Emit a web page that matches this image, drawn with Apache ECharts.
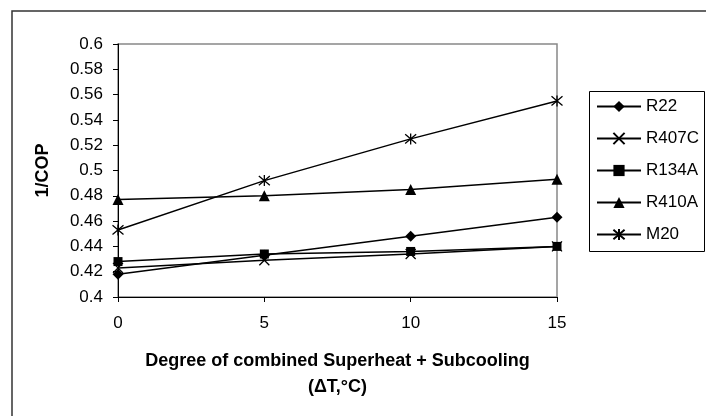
<!DOCTYPE html>
<html>
<head>
<meta charset="utf-8">
<script src="https://cdn.jsdelivr.net/npm/echarts@6/dist/echarts.min.js"></script>
<style>
  html, body { margin: 0; padding: 0; background: #fff; }
  #chart { width: 706px; height: 416px; }
</style>
</head>
<body>
<div id="chart"></div>
<script>
// x values: degree of combined superheat + subcooling
var xValues = [0, 5, 10, 15];
var seriesNames = ['R22', 'R407C', 'R134A', 'R410A', 'M20'];
var r22 = [0.418, 0.433, 0.448, 0.463];
var r407c = [0.423, 0.429, 0.434, 0.440];
var r134a = [0.428, 0.434, 0.436, 0.440];
var r410a = [0.477, 0.480, 0.485, 0.493];
var m20 = [0.453, 0.492, 0.525, 0.555];

var crossPath = 'path://M0,0L10,10M10,0L0,10';
var starPath = 'path://M0,0L10,10M10,0L0,10M5,-1L5,11';

function pairs(vals) {
    return xValues.map(function (x, i) { return [x, vals[i]]; });
}

function makeSeries(name, vals, symbol, size, stroke) {
    return {
        name: name,
        type: 'line',
        data: pairs(vals),
        symbol: symbol,
        symbolSize: size,
        showAllSymbol: true,
        lineStyle: { color: '#000', width: 1.5 },
        itemStyle: { color: '#000', borderColor: '#000', borderWidth: stroke ? 1.3 : 0 },
        emphasis: { disabled: true },
        z: 3
    };
}

var myChart = echarts.init(document.getElementById('chart'));

var font = 'Liberation Sans, Arial, sans-serif';

var option = {
    animation: false,
    backgroundColor: '#fff',
    textStyle: { fontFamily: font },
    graphic: [
        // outer chart frame
        {
            type: 'rect',
            shape: { x: 12, y: 11, width: 800, height: 500 },
            style: { fill: 'none', stroke: '#333', lineWidth: 1.5 },
            z: -1
        },
        // legend box
        {
            type: 'rect',
            shape: { x: 589.5, y: 91.5, width: 115, height: 160 },
            style: { fill: 'none', stroke: '#000', lineWidth: 1 },
            z: -1
        }
    ],
    grid: {
        left: 118, right: 149, top: 44, bottom: 119,
        show: true, borderColor: '#888', borderWidth: 1.5
    },
    legend: {
        orient: 'vertical',
        left: 596, top: 98,
        padding: 0,
        itemWidth: 44, itemHeight: 14, itemGap: 15,
        data: seriesNames,
        textStyle: { fontFamily: font, fontSize: 17, color: '#000', padding: [0, 0, 0, 0] }
    },
    xAxis: {
        type: 'value',
        min: 0, max: 15, interval: 5,
        splitLine: { show: false },
        axisLine: { lineStyle: { color: '#000', width: 1 } },
        axisTick: { inside: false, length: 5, lineStyle: { color: '#000' } },
        axisLabel: { fontFamily: font, fontSize: 17, color: '#000', margin: 18 },
        name: 'Degree of combined Superheat + Subcooling\n(\u0394T,\u00b0C)',
        nameLocation: 'middle',
        nameGap: 51,
        nameTextStyle: { fontFamily: font, fontSize: 18, fontWeight: 'bold', color: '#000', lineHeight: 26 }
    },
    yAxis: {
        type: 'value',
        min: 0.4, max: 0.6, interval: 0.02,
        splitLine: { show: false },
        axisLine: { show: true, lineStyle: { color: '#000', width: 1 } },
        axisTick: { show: true, inside: false, length: 5, lineStyle: { color: '#000' } },
        axisLabel: {
            fontFamily: font, fontSize: 17, color: '#000', margin: 15,
            formatter: function (v) { return String(Math.round(v * 100) / 100); }
        },
        name: '1/COP',
        nameLocation: 'middle',
        nameGap: 66,
        nameTextStyle: { fontFamily: font, fontSize: 18, fontWeight: 'bold', color: '#000' }
    },
    series: [
        makeSeries('R22', r22, 'diamond', 11, false),
        makeSeries('R407C', r407c, crossPath, 10, true),
        makeSeries('R134A', r134a, 'rect', 9, false),
        makeSeries('R410A', r410a, 'triangle', 11, false),
        makeSeries('M20', m20, starPath, 11, true)
    ]
};

myChart.setOption(option);
</script>
</body>
</html>
